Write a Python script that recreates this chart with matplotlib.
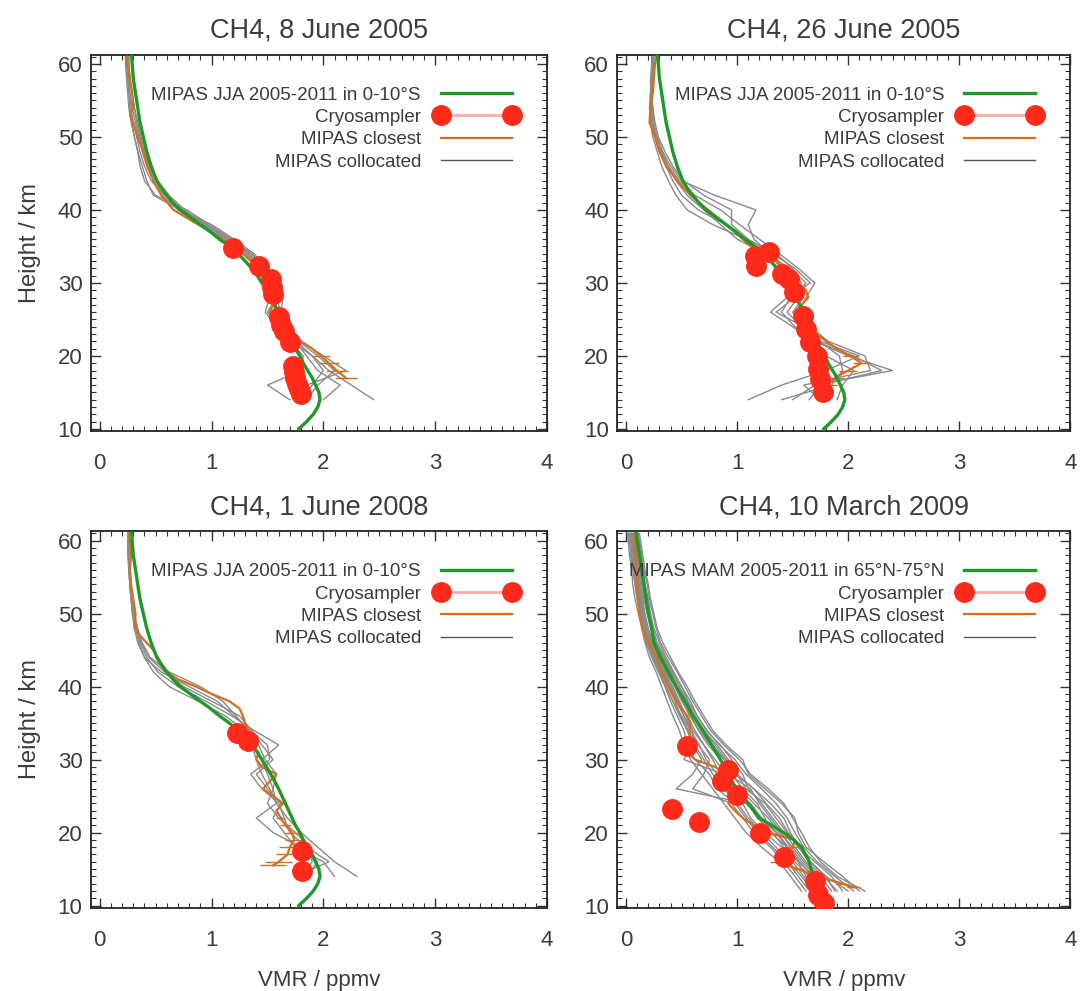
import matplotlib
matplotlib.use("Agg")
import matplotlib.pyplot as plt
from matplotlib.lines import Line2D
from matplotlib.ticker import MultipleLocator
import numpy as np

plt.rcParams['font.family'] = ['Liberation Sans', 'DejaVu Sans']
TXT = '#3c3c3c'
plt.rcParams['text.color'] = TXT
plt.rcParams['axes.labelcolor'] = TXT
plt.rcParams['xtick.color'] = '#333333'
plt.rcParams['ytick.color'] = '#333333'
plt.rcParams['xtick.labelcolor'] = TXT
plt.rcParams['ytick.labelcolor'] = TXT

# ---------------- data (VMR in ppmv, height in km) ----------------
titles = ["CH4, 8 June 2005", "CH4, 26 June 2005", "CH4, 1 June 2008", "CH4, 10 March 2009"]
clim_labels = ["MIPAS JJA 2005-2011 in 0-10°S", "MIPAS JJA 2005-2011 in 0-10°S",
               "MIPAS JJA 2005-2011 in 0-10°S", "MIPAS MAM 2005-2011 in 65°N-75°N"]

trop_h = list(range(10, 62))
clim_trop = [1.78, 1.85, 1.91, 1.95, 1.97, 1.96, 1.93, 1.90, 1.86, 1.82, 1.79, 1.75, 1.72, 1.69, 1.66, 1.63,
             1.60, 1.565, 1.53, 1.49, 1.45, 1.41, 1.36, 1.30, 1.24, 1.16, 1.07, 0.99, 0.90, 0.81, 0.72, 0.655,
             0.60, 0.55, 0.51, 0.485, 0.46, 0.44, 0.42, 0.405, 0.39, 0.375, 0.36, 0.35, 0.34, 0.33, 0.32, 0.31,
             0.30, 0.295, 0.29, 0.285]
arct_h = [10, 12, 14, 16, 18, 19, 20, 21, 22, 24, 26, 28, 30, 32, 34, 36, 38, 40, 42, 44, 46, 48, 50, 52, 54, 56, 58, 60, 61]
clim_arct = [1.76, 1.72, 1.68, 1.65, 1.58, 1.51, 1.42, 1.31, 1.20, 1.10, 0.99, 0.92, 0.85, 0.77, 0.69, 0.60,
             0.53, 0.45, 0.38, 0.31, 0.25, 0.23, 0.20, 0.18, 0.16, 0.14, 0.12, 0.10, 0.09]

# cryosampler samples
cryo_h1 = [34.8, 32.3, 30.5, 29.5, 28.5, 25.3, 24.2, 23.4, 21.9, 18.6, 17.8, 17.0, 16.2, 15.4, 14.8]
cryo_v1 = [1.19, 1.42, 1.53, 1.54, 1.55, 1.60, 1.62, 1.65, 1.70, 1.73, 1.74, 1.75, 1.76, 1.78, 1.80]
cryo_h2 = [33.7, 32.3, 34.2, 31.2, 30.5, 28.7, 25.5, 23.7, 21.9, 20.0, 18.2, 16.8, 15.1]
cryo_v2 = [1.16, 1.17, 1.29, 1.40, 1.47, 1.51, 1.59, 1.62, 1.66, 1.72, 1.73, 1.75, 1.77]
cryo_h3 = [33.6, 32.6, 17.5, 14.8]
cryo_v3 = [1.23, 1.33, 1.81, 1.81]
cryo_h4 = [31.8, 28.6, 27.0, 25.2, 23.3, 21.5, 20.0, 16.6, 13.4, 11.4, 10.3]
cryo_v4 = [0.55, 0.92, 0.86, 1.00, 0.41, 0.66, 1.21, 1.42, 1.70, 1.73, 1.78]

# MIPAS closest profile (with error bars at the lowest levels)
close_h1 = [17, 18, 19, 20, 21, 22, 23, 24, 25, 26, 27, 28, 29, 30, 31, 32, 34, 36, 38, 40, 42, 44, 46, 48,
            50, 52, 53, 54, 56, 58, 60, 61]
close_v1 = [2.20, 2.12, 2.05, 1.98, 1.90, 1.80, 1.70, 1.62, 1.55, 1.52, 1.55, 1.57, 1.55, 1.52, 1.48, 1.42,
            1.28, 1.10, 0.88, 0.66, 0.55, 0.48, 0.43, 0.39, 0.34, 0.30, 0.27, 0.30, 0.29, 0.27, 0.25, 0.24]
close_e1 = [0.10, 0.10, 0.09, 0.08, 0, 0, 0, 0, 0, 0, 0, 0, 0, 0, 0, 0, 0, 0, 0, 0, 0, 0, 0, 0,
            0, 0, 0, 0, 0, 0, 0, 0]
close_h2 = [15, 16, 17, 18, 19, 20, 21, 22, 23, 24, 25, 26, 27, 28, 29, 30, 31, 32, 33, 34, 36, 38, 40, 42,
            44, 46, 48, 50, 52, 54, 56, 58, 60, 61]
close_v2 = [1.78, 1.82, 1.88, 2.00, 2.12, 2.02, 1.90, 1.80, 1.72, 1.65, 1.58, 1.52, 1.58, 1.64, 1.62, 1.55,
            1.48, 1.42, 1.35, 1.20, 1.05, 0.90, 0.74, 0.58, 0.46, 0.36, 0.30, 0.26, 0.21, 0.22, 0.24, 0.25,
            0.26, 0.27]
close_e2 = [0.08, 0.08, 0.08, 0.08, 0.08, 0.07, 0, 0, 0, 0, 0, 0, 0, 0, 0, 0, 0, 0, 0, 0, 0, 0, 0, 0,
            0, 0, 0, 0, 0, 0, 0, 0, 0, 0]
close_h3 = [15.5, 16, 17, 18, 19, 20, 21, 22, 23, 24, 25, 26, 27, 28, 29, 30, 31, 32, 33, 34, 35, 36, 37,
            38, 39, 40, 41, 42, 43, 44, 45, 46, 47, 48, 50, 52, 54, 56, 58, 60, 61]
close_v3 = [1.55, 1.60, 1.68, 1.70, 1.74, 1.72, 1.66, 1.62, 1.58, 1.64, 1.55, 1.46, 1.52, 1.58, 1.45, 1.40,
            1.42, 1.36, 1.32, 1.33, 1.30, 1.28, 1.25, 1.16, 1.00, 0.86, 0.70, 0.60, 0.56, 0.52, 0.48, 0.42,
            0.36, 0.31, 0.32, 0.30, 0.28, 0.27, 0.28, 0.27, 0.26]
close_e3 = [0.12, 0.12, 0.10, 0.10, 0.08, 0.06, 0.05, 0.04, 0, 0, 0, 0, 0, 0, 0, 0, 0, 0, 0, 0, 0, 0, 0,
            0, 0, 0, 0, 0, 0, 0, 0, 0, 0, 0, 0, 0, 0, 0, 0, 0, 0]
close_h4 = [12.5, 13, 14, 15, 16, 17, 18, 19, 20, 21, 22, 23, 24, 25, 26, 27, 28, 29, 30, 31, 32, 33, 34,
            35, 36, 38, 40, 42, 44, 46, 48, 50, 52, 54, 56, 58, 60, 61]
close_v4 = [2.05, 1.95, 1.72, 1.55, 1.35, 1.40, 1.50, 1.52, 1.28, 1.15, 1.05, 0.98, 0.92, 0.95, 0.90, 0.88,
            0.90, 0.80, 0.62, 0.55, 0.58, 0.58, 0.57, 0.58, 0.55, 0.45, 0.38, 0.32, 0.28, 0.20, 0.15, 0.12,
            0.11, 0.10, 0.10, 0.09, 0.08, 0.08]
close_e4 = [0.06, 0.06, 0.05, 0.05, 0.05, 0.04, 0.04, 0, 0, 0, 0, 0, 0, 0, 0, 0, 0, 0, 0, 0, 0, 0, 0,
            0, 0, 0, 0, 0, 0, 0, 0, 0, 0, 0, 0, 0, 0, 0]

# MIPAS collocated profiles
coll_h = [14, 16, 18, 20, 22, 24, 26, 28, 30, 32, 34, 36, 38, 40, 42, 44, 46, 48, 50, 52, 54, 56, 58, 60, 61]
coll1 = [
    [2.45, 2.25, 2.05, 1.90, 1.76, 1.66, 1.58, 1.52, 1.50, 1.44, 1.30, 1.12, 0.92, 0.70, 0.56, 0.48, 0.42, 0.38, 0.35, 0.32, 0.29, 0.27, 0.26, 0.25, 0.25],
    [1.70, 1.50, 1.80, 1.82, 1.70, 1.62, 1.55, 1.60, 1.56, 1.46, 1.33, 1.15, 0.95, 0.74, 0.58, 0.46, 0.40, 0.36, 0.33, 0.30, 0.28, 0.27, 0.25, 0.24, 0.24],
    [1.85, 1.95, 2.10, 1.95, 1.78, 1.60, 1.50, 1.58, 1.62, 1.50, 1.36, 1.18, 0.98, 0.78, 0.50, 0.40, 0.36, 0.34, 0.31, 0.29, 0.27, 0.26, 0.25, 0.24, 0.24],
    [2.00, 2.15, 1.95, 1.85, 1.75, 1.66, 1.62, 1.64, 1.58, 1.48, 1.35, 1.16, 0.96, 0.74, 0.60, 0.50, 0.44, 0.40, 0.36, 0.33, 0.31, 0.29, 0.27, 0.26, 0.26],
    [1.80, 1.90, 2.00, 1.90, 1.72, 1.58, 1.48, 1.52, 1.55, 1.50, 1.38, 1.20, 1.00, 0.72, 0.48, 0.42, 0.38, 0.34, 0.31, 0.28, 0.26, 0.25, 0.24, 0.23, 0.23],
    [1.75, 1.85, 2.20, 2.00, 1.80, 1.70, 1.62, 1.58, 1.54, 1.45, 1.32, 1.14, 0.94, 0.76, 0.62, 0.52, 0.45, 0.40, 0.37, 0.34, 0.31, 0.29, 0.27, 0.26, 0.26],
]
coll2 = [
    [1.50, 1.70, 2.40, 2.00, 1.70, 1.58, 1.50, 1.60, 1.55, 1.45, 1.30, 1.15, 1.10, 1.17, 0.80, 0.50, 0.40, 0.33, 0.28, 0.25, 0.24, 0.23, 0.23, 0.24, 0.25],
    [1.10, 1.40, 1.80, 2.10, 1.75, 1.60, 1.35, 1.52, 1.62, 1.48, 1.25, 1.00, 0.85, 0.70, 0.55, 0.45, 0.38, 0.32, 0.27, 0.24, 0.22, 0.22, 0.23, 0.24, 0.24],
    [1.90, 1.95, 2.05, 1.80, 1.68, 1.52, 1.40, 1.48, 1.58, 1.50, 1.35, 1.08, 0.78, 0.55, 0.45, 0.38, 0.32, 0.28, 0.24, 0.22, 0.21, 0.22, 0.22, 0.23, 0.23],
    [1.75, 1.60, 2.20, 2.15, 1.82, 1.66, 1.55, 1.62, 1.70, 1.55, 1.38, 1.20, 1.02, 0.85, 0.62, 0.48, 0.38, 0.31, 0.26, 0.23, 0.22, 0.22, 0.23, 0.24, 0.24],
    [1.40, 1.85, 1.95, 1.92, 1.74, 1.58, 1.45, 1.55, 1.50, 1.40, 1.28, 1.05, 0.90, 0.65, 0.50, 0.42, 0.36, 0.30, 0.26, 0.24, 0.23, 0.23, 0.24, 0.25, 0.25],
    [1.65, 1.75, 2.30, 2.05, 1.70, 1.50, 1.30, 1.45, 1.66, 1.52, 1.32, 1.10, 0.95, 0.95, 0.70, 0.52, 0.42, 0.35, 0.29, 0.26, 0.24, 0.23, 0.23, 0.24, 0.24],
]
coll3 = [
    [2.30, 2.10, 1.95, 1.80, 1.68, 1.58, 1.52, 1.45, 1.40, 1.36, 1.30, 1.12, 0.88, 0.62, 0.48, 0.40, 0.35, 0.32, 0.30, 0.28, 0.27, 0.27, 0.26, 0.26, 0.26],
    [1.85, 1.95, 1.80, 1.55, 1.40, 1.58, 1.55, 1.50, 1.45, 1.60, 1.38, 1.18, 0.95, 0.70, 0.52, 0.42, 0.36, 0.33, 0.30, 0.28, 0.27, 0.26, 0.26, 0.25, 0.25],
    [1.75, 2.05, 1.85, 1.70, 1.65, 1.60, 1.45, 1.35, 1.52, 1.50, 1.35, 1.20, 1.05, 0.80, 0.55, 0.40, 0.34, 0.31, 0.29, 0.28, 0.27, 0.26, 0.25, 0.25, 0.25],
    [1.80, 1.90, 1.88, 1.75, 1.60, 1.50, 1.55, 1.58, 1.48, 1.42, 1.32, 1.22, 1.10, 0.90, 0.62, 0.45, 0.38, 0.34, 0.31, 0.29, 0.28, 0.27, 0.26, 0.26, 0.26],
    [2.10, 2.00, 1.75, 1.65, 1.55, 1.62, 1.50, 1.40, 1.55, 1.45, 1.36, 1.25, 1.00, 0.75, 0.58, 0.44, 0.37, 0.33, 0.30, 0.28, 0.27, 0.26, 0.26, 0.25, 0.25],
]
coll_h4 = [12, 14, 16, 18, 20, 22, 24, 26, 28, 30, 32, 34, 36, 38, 40, 42, 44, 46, 48, 50, 52, 54, 56, 58, 60, 61]
coll4 = [
    [2.15, 1.90, 1.75, 1.65, 1.58, 1.50, 1.42, 1.28, 1.12, 1.02, 0.88, 0.76, 0.68, 0.60, 0.53, 0.46, 0.38, 0.31, 0.27, 0.24, 0.21, 0.19, 0.16, 0.14, 0.12, 0.11],
    [1.95, 1.85, 1.70, 1.55, 1.48, 1.42, 1.30, 1.15, 1.00, 0.90, 0.80, 0.70, 0.62, 0.55, 0.48, 0.40, 0.33, 0.27, 0.23, 0.20, 0.18, 0.16, 0.14, 0.12, 0.10, 0.09],
    [1.80, 1.70, 1.55, 1.45, 1.30, 1.25, 1.18, 1.05, 0.95, 0.85, 0.74, 0.65, 0.58, 0.50, 0.44, 0.36, 0.29, 0.24, 0.20, 0.17, 0.15, 0.13, 0.11, 0.09, 0.08, 0.07],
    [1.70, 1.60, 1.50, 1.40, 1.25, 1.12, 1.05, 0.98, 0.90, 0.80, 0.70, 0.62, 0.55, 0.46, 0.40, 0.33, 0.26, 0.20, 0.17, 0.14, 0.12, 0.10, 0.08, 0.06, 0.05, 0.05],
    [1.62, 1.52, 1.42, 1.30, 1.15, 1.05, 0.95, 0.60, 0.70, 0.75, 0.65, 0.58, 0.50, 0.42, 0.36, 0.30, 0.24, 0.19, 0.15, 0.12, 0.10, 0.08, 0.06, 0.04, 0.03, 0.02],
    [1.58, 1.48, 1.38, 1.22, 1.08, 0.98, 0.88, 0.78, 0.68, 0.58, 0.52, 0.48, 0.42, 0.37, 0.32, 0.27, 0.21, 0.17, 0.14, 0.11, 0.08, 0.06, 0.05, 0.03, 0.02, 0.01],
    [1.90, 1.78, 1.62, 1.52, 1.42, 1.32, 1.22, 1.10, 1.05, 0.95, 0.85, 0.72, 0.64, 0.56, 0.50, 0.42, 0.35, 0.28, 0.24, 0.21, 0.19, 0.17, 0.15, 0.13, 0.11, 0.10],
    [2.05, 1.88, 1.72, 1.60, 1.52, 1.45, 1.35, 1.22, 1.08, 0.98, 0.84, 0.73, 0.64, 0.58, 0.50, 0.43, 0.36, 0.30, 0.25, 0.22, 0.20, 0.17, 0.15, 0.13, 0.11, 0.10],
    [1.75, 1.65, 1.52, 1.45, 1.35, 1.20, 1.08, 0.45, 0.60, 0.68, 0.60, 0.55, 0.48, 0.42, 0.36, 0.30, 0.25, 0.20, 0.16, 0.13, 0.11, 0.09, 0.07, 0.05, 0.04, 0.03],
    [1.85, 1.75, 1.60, 1.50, 1.38, 1.28, 1.15, 1.02, 0.88, 0.52, 0.60, 0.60, 0.54, 0.48, 0.42, 0.35, 0.28, 0.22, 0.18, 0.15, 0.13, 0.11, 0.09, 0.07, 0.06, 0.05],
    [1.68, 1.58, 1.46, 1.35, 1.22, 1.10, 1.00, 0.88, 0.78, 0.70, 0.62, 0.56, 0.49, 0.44, 0.38, 0.31, 0.25, 0.21, 0.18, 0.15, 0.13, 0.11, 0.09, 0.08, 0.07, 0.06],
    [2.00, 1.80, 1.66, 1.58, 1.46, 1.38, 1.26, 1.15, 0.98, 0.88, 0.78, 0.68, 0.60, 0.52, 0.46, 0.39, 0.32, 0.26, 0.22, 0.19, 0.16, 0.14, 0.12, 0.10, 0.09, 0.08],
    [1.82, 1.72, 1.58, 1.48, 1.40, 1.30, 1.20, 1.12, 0.92, 0.90, 0.76, 0.66, 0.57, 0.51, 0.45, 0.37, 0.30, 0.23, 0.19, 0.16, 0.14, 0.12, 0.10, 0.08, 0.07, 0.06],
    [1.72, 1.62, 1.55, 1.42, 1.32, 1.18, 1.10, 1.00, 0.85, 0.78, 0.70, 0.60, 0.52, 0.47, 0.41, 0.34, 0.27, 0.22, 0.18, 0.16, 0.14, 0.12, 0.10, 0.08, 0.06, 0.05],
    [2.10, 1.95, 1.78, 1.62, 1.55, 1.52, 1.40, 1.25, 1.10, 1.05, 0.90, 0.78, 0.70, 0.62, 0.55, 0.47, 0.40, 0.33, 0.28, 0.25, 0.22, 0.20, 0.17, 0.15, 0.13, 0.12],
    [1.65, 1.55, 1.45, 1.32, 1.18, 1.08, 0.98, 0.82, 0.75, 0.62, 0.55, 0.52, 0.46, 0.40, 0.35, 0.29, 0.23, 0.18, 0.15, 0.12, 0.10, 0.08, 0.07, 0.05, 0.04, 0.03],
    [1.88, 1.80, 1.65, 1.55, 1.45, 1.35, 1.25, 1.08, 1.00, 0.92, 0.82, 0.70, 0.62, 0.54, 0.48, 0.41, 0.34, 0.27, 0.23, 0.20, 0.17, 0.15, 0.13, 0.11, 0.09, 0.08],
    [1.78, 1.68, 1.56, 1.46, 1.36, 1.22, 1.12, 0.95, 0.82, 0.72, 0.66, 0.58, 0.52, 0.45, 0.39, 0.32, 0.26, 0.21, 0.17, 0.14, 0.12, 0.10, 0.08, 0.07, 0.05, 0.04],
]

cryo = [(cryo_v1, cryo_h1), (cryo_v2, cryo_h2), (cryo_v3, cryo_h3), (cryo_v4, cryo_h4)]
closest = [(close_v1, close_h1, close_e1), (close_v2, close_h2, close_e2),
           (close_v3, close_h3, close_e3), (close_v4, close_h4, close_e4)]
colloc = [(coll1, coll_h), (coll2, coll_h), (coll3, coll_h), (coll4, coll_h4)]
clims = [(clim_trop, trop_h), (clim_trop, trop_h), (clim_trop, trop_h), (clim_arct, arct_h)]

GREEN = '#1f9a2a'
RED = '#ff2a1a'
ORANGE = '#d46f1e'
GRAY = '#8a8a8a'

fig = plt.figure(figsize=(10.81, 9.91), dpi=100)
boxes = [[0.084, 0.565, 0.422, 0.380], [0.571, 0.565, 0.419, 0.380],
         [0.084, 0.084, 0.422, 0.380], [0.571, 0.084, 0.419, 0.380]]

for i in range(4):
    ax = fig.add_axes(boxes[i])
    profs, ph = colloc[i]
    for p in profs:
        ax.plot(p, ph, color=GRAY, lw=1.0, zorder=2)
    cv, chh, ce = closest[i]
    ax.errorbar(cv, chh, xerr=ce, color=ORANGE, lw=1.6, elinewidth=1.0, capsize=0, zorder=3)
    ax.plot(clims[i][0], clims[i][1], color=GREEN, lw=2.4, zorder=4)
    ax.plot(cryo[i][0], cryo[i][1], 'o', color=RED, ms=14, mec=RED, zorder=5)

    ax.set_xlim(-0.08, 4)
    ax.set_ylim(9.7, 61.3)
    ax.xaxis.set_major_locator(MultipleLocator(1))
    ax.xaxis.set_minor_locator(MultipleLocator(0.1))
    ax.yaxis.set_major_locator(MultipleLocator(10))
    ax.yaxis.set_minor_locator(MultipleLocator(1))
    ax.tick_params(which='both', direction='in', top=True, right=True, labelsize=16)
    ax.tick_params(which='major', length=7, width=1.0)
    ax.tick_params(which='minor', length=3.5, width=0.8)
    ax.tick_params(axis='x', pad=16)
    ax.tick_params(axis='y', pad=6)
    for s in ax.spines.values():
        s.set_linewidth(1.3)
        s.set_color('#222222')
    ax.set_title(titles[i], fontsize=19.5, pad=12)
    if i in (0, 2):
        ax.set_ylabel("Height / km", fontsize=17, labelpad=12)
    if i in (2, 3):
        ax.set_xlabel("VMR / ppmv", fontsize=16, labelpad=14)

    handles = [Line2D([], [], color=GREEN, lw=2.4),
               Line2D([], [], color='#ffaaaa', lw=2, marker='o', ms=14, mfc=RED, mec=RED),
               Line2D([], [], color=ORANGE, lw=1.6),
               Line2D([], [], color='#555555', lw=1.0)]
    labels = [clim_labels[i], "Cryosampler", "MIPAS closest", "MIPAS collocated"]
    ax.legend(handles, labels, loc='upper right', bbox_to_anchor=(0.96, 0.945), frameon=False,
              markerfirst=False, numpoints=2, fontsize=13.5, handlelength=4.4,
              handletextpad=0.75, labelspacing=0.28, borderaxespad=0.2)

fig.savefig("out.png", dpi=100)
